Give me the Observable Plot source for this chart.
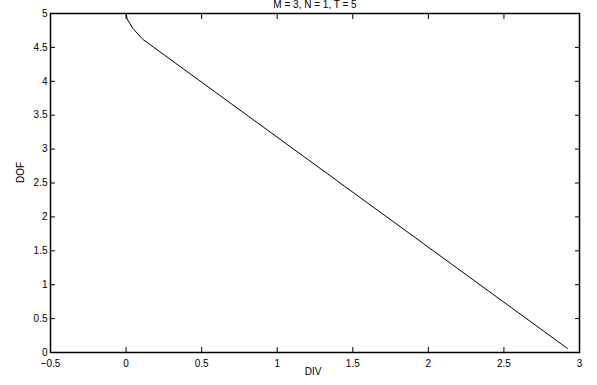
<!DOCTYPE html>
<html><head><meta charset="utf-8">
<script src="https://cdn.jsdelivr.net/npm/d3@7"></script>
<script src="https://cdn.jsdelivr.net/npm/@observablehq/plot@0.6"></script>
<style>body{margin:0;background:#fff;font-family:"Liberation Sans",Arial,sans-serif;}</style>
</head><body><div id="chart"></div>
<script>
const title = "M = 3, N = 1, T = 5";
const xLabel = "DIV";
const yLabel = "DOF";
const divValues = [0, 0.007, 0.045, 0.11, 2.92];
const dofValues = [5, 4.92, 4.78, 4.62, 0.06];
const xTicks = [-0.5, 0, 0.5, 1, 1.5, 2, 2.5, 3];
const yTicks = [0, 0.5, 1, 1.5, 2, 2.5, 3, 3.5, 4, 4.5, 5];

const data = divValues.map((d, i) => ({div: d, dof: dofValues[i]}));
const fmt = d => (d < 0 ? "\u2212" + String(-d) : String(d));

const chart = Plot.plot({
  width: 597, height: 385,
  marginLeft: 50, marginRight: 18, marginTop: 13, marginBottom: 33,
  style: {fontFamily: "Liberation Sans, Arial, sans-serif", fontSize: "10px", color: "#000", background: "#fff"},
  x: {domain: [-0.5, 3]},
  y: {domain: [0, 5]},
  marks: [
    Plot.axisX(xTicks, {anchor: "bottom", tickSize: -5, tickPadding: 12, tickFormat: fmt, label: null}),
    Plot.axisX(xTicks, {anchor: "top", tickSize: -5, tickFormat: () => "", label: null}),
    Plot.axisY(yTicks, {anchor: "left", tickSize: -5, tickPadding: 8, tickFormat: fmt, label: null}),
    Plot.axisY(yTicks, {anchor: "right", tickSize: -5, tickFormat: () => "", label: null}),
    Plot.frame({stroke: "#000", strokeWidth: 1.5}),
    Plot.line(data, {x: "div", y: "dof", stroke: "#000", strokeWidth: 1}),
    Plot.text([title], {frameAnchor: "top", lineAnchor: "bottom", dy: -6, fontSize: 10}),
    Plot.text([xLabel], {frameAnchor: "bottom", lineAnchor: "top", dy: 15, dx: -2, fontSize: 10}),
    Plot.text([yLabel], {frameAnchor: "left", rotate: -90, dx: -30, dy: 0, fontSize: 10})
  ]
});
document.getElementById("chart").appendChild(chart);
</script></body></html>
